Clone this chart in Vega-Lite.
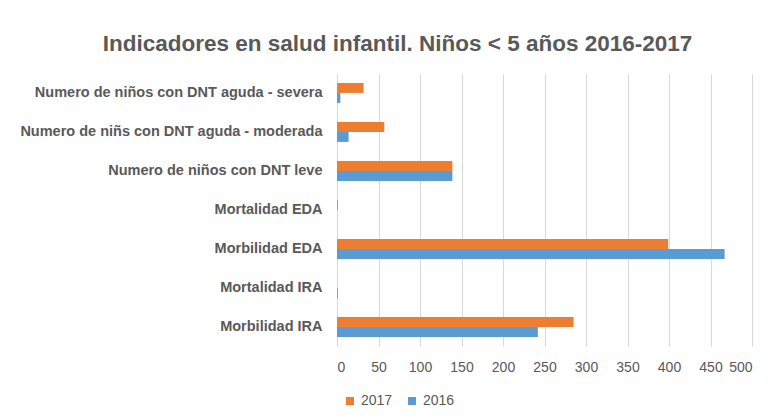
{
  "$schema": "https://vega.github.io/schema/vega-lite/v6.json",
  "autosize": {"type": "none"},
  "width": 415,
  "height": 272,
  "padding": {"left": 337, "top": 74, "right": 18, "bottom": 71},
  "background": "white",
  "title": {
    "text": "Indicadores en salud infantil.  Niños < 5 años 2016-2017",
    "anchor": "middle",
    "dx": -147,
    "offset": 19,
    "fontSize": 22.5,
    "fontWeight": "bold",
    "font": "Liberation Sans",
    "color": "#595959"
  },
  "data": {
    "values": [
      {"indicador": "Numero de niños con DNT aguda - severa", "year": "2017", "valor": 32},
      {"indicador": "Numero de niños con DNT aguda - severa", "year": "2016", "valor": 4},
      {"indicador": "Numero de niñs con DNT aguda - moderada", "year": "2017", "valor": 57},
      {"indicador": "Numero de niñs con DNT aguda - moderada", "year": "2016", "valor": 14},
      {"indicador": "Numero de niños con DNT leve", "year": "2017", "valor": 139},
      {"indicador": "Numero de niños con DNT leve", "year": "2016", "valor": 139},
      {"indicador": "Mortalidad EDA", "year": "2017", "valor": 1},
      {"indicador": "Mortalidad EDA", "year": "2016", "valor": 0},
      {"indicador": "Morbilidad EDA", "year": "2017", "valor": 399},
      {"indicador": "Morbilidad EDA", "year": "2016", "valor": 467},
      {"indicador": "Mortalidad IRA", "year": "2017", "valor": 0},
      {"indicador": "Mortalidad IRA", "year": "2016", "valor": 1},
      {"indicador": "Morbilidad IRA", "year": "2017", "valor": 285},
      {"indicador": "Morbilidad IRA", "year": "2016", "valor": 242}
    ]
  },
  "mark": {"type": "bar"},
  "encoding": {
    "y": {
      "field": "indicador",
      "type": "nominal",
      "sort": null,
      "title": null,
      "scale": {"paddingInner": 0.49, "paddingOuter": 0.23},
      "axis": {
        "ticks": false,
        "domain": true,
        "domainColor": "#d9d9d9",
        "labelPadding": 15,
        "labelFont": "Liberation Sans",
        "labelFontSize": 14.5,
        "labelFontWeight": "bold",
        "labelColor": "#595959",
        "labelLimit": 400
      }
    },
    "yOffset": {"field": "year", "type": "nominal", "sort": ["2017", "2016"]},
    "x": {
      "field": "valor",
      "type": "quantitative",
      "title": null,
      "scale": {"domain": [0, 500], "nice": false},
      "axis": {
        "values": [0, 50, 100, 150, 200, 250, 300, 350, 400, 450, 500],
        "grid": true,
        "gridColor": "#d9d9d9",
        "domain": false,
        "ticks": false,
        "labelPadding": 14,
        "labelFont": "Liberation Sans",
        "labelFontSize": 14,
        "labelColor": "#595959"
      }
    },
    "color": {
      "field": "year",
      "type": "nominal",
      "scale": {"domain": ["2017", "2016"], "range": ["#ED7D31", "#5B9BD5"]},
      "legend": {
        "title": null,
        "orient": "none",
        "direction": "horizontal",
        "legendX": 6,
        "legendY": 320,
        "symbolType": "square",
        "symbolSize": 64,
        "symbolStrokeWidth": 0,
        "labelFont": "Liberation Sans",
        "labelFontSize": 14,
        "labelColor": "#595959",
        "columnPadding": 12
      }
    }
  },
  "config": {"view": {"stroke": null}}
}
